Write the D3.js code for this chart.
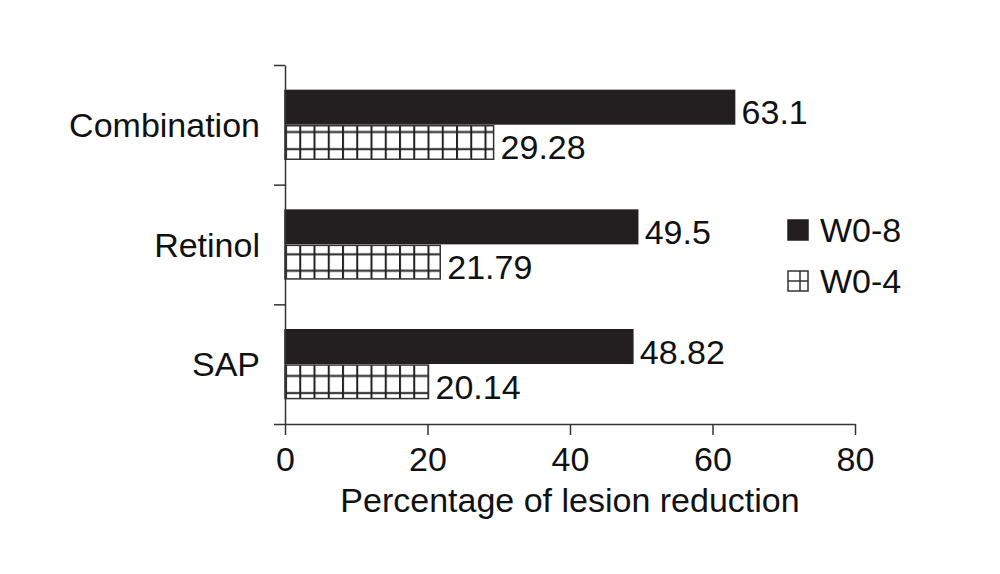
<!DOCTYPE html>
<html>
<head>
<meta charset="utf-8">
<script src="https://cdn.jsdelivr.net/npm/d3@7"></script>
<style>
  body { margin: 0; background: #fff; }
  text { font-family: "Liberation Sans", Arial, Helvetica, sans-serif; fill: #111; }
  .axis path, .axis line { stroke: #333; stroke-width: 1.5; }
</style>
</head>
<body>
<div id="chart"></div>
<script>
// data
var categories = ["Combination", "Retinol", "SAP"];
var series = ["W0-8", "W0-4"];
var w08 = [63.1, 49.5, 48.82];
var w04 = [29.28, 21.79, 20.14];
var w08Labels = ["63.1", "49.5", "48.82"];
var w04Labels = ["29.28", "21.79", "20.14"];
var xTicks = [0, 20, 40, 60, 80];

var svgWidth = 1000;
var svgHeight = 574;
var fontSize = 34;

var svg = d3.select("#chart")
  .append("svg")
  .attr("width", svgWidth)
  .attr("height", svgHeight);

var x = d3.scaleLinear().domain([0, 80]).range([285, 855]);
var y = d3.scaleBand().domain(categories).range([65, 424]);
var ySub = d3.scaleBand().domain(series).range([0, y.bandwidth()])
  .paddingInner(0.05).paddingOuter(0.72);

var rows = categories.map(function(c, i) {
  return { cat: c, values: [
    { key: "W0-8", v: w08[i], label: w08Labels[i] },
    { key: "W0-4", v: w04[i], label: w04Labels[i] }
  ]};
});

// hatch pattern, one per category so the grid lines up with each bar
var defs = svg.append("defs");
var cellW = x(2) - x(0);
var hatchH = ySub.bandwidth();
var pats = defs.selectAll("pattern")
  .data(categories)
  .join("pattern")
  .attr("id", function(d, i) { return "hatch" + i; })
  .attr("patternUnits", "userSpaceOnUse")
  .attr("x", x(0))
  .attr("y", function(d) { return y(d) + ySub("W0-4"); })
  .attr("width", cellW)
  .attr("height", hatchH);
pats.append("rect").attr("width", cellW).attr("height", hatchH).attr("fill", "#fff");
pats.append("line").attr("x1", 1).attr("x2", 1).attr("y1", 0).attr("y2", hatchH)
  .attr("stroke", "#222").attr("stroke-width", 2);
pats.append("line").attr("x1", 0).attr("x2", cellW).attr("y1", hatchH * 0.25).attr("y2", hatchH * 0.25)
  .attr("stroke", "#222").attr("stroke-width", 2);
pats.append("line").attr("x1", 0).attr("x2", cellW).attr("y1", hatchH * 0.76).attr("y2", hatchH * 0.76)
  .attr("stroke", "#222").attr("stroke-width", 2);

// bars
var groups = svg.selectAll(".row")
  .data(rows)
  .join("g")
  .attr("class", "row")
  .attr("transform", function(d) { return "translate(0," + y(d.cat) + ")"; });

groups.each(function(row, i) {
  var g = d3.select(this);
  g.selectAll("rect")
    .data(row.values)
    .join("rect")
    .attr("x", x(0))
    .attr("y", function(d) { return ySub(d.key); })
    .attr("width", function(d) { return x(d.v) - x(0); })
    .attr("height", ySub.bandwidth())
    .attr("fill", function(d) { return d.key === "W0-8" ? "#231f20" : "url(#hatch" + i + ")"; })
    .attr("stroke", function(d) { return d.key === "W0-8" ? "#231f20" : "#333"; })
    .attr("stroke-width", 1.5);

  g.selectAll("text.val")
    .data(row.values)
    .join("text")
    .attr("class", "val")
    .attr("x", function(d) { return x(d.v) + 7; })
    .attr("y", function(d) { return ySub(d.key) + ySub.bandwidth() / 2 + 5; })
    .attr("dominant-baseline", "central")
    .style("font-size", fontSize + "px")
    .text(function(d) { return d.label; });
});

// x axis
var xAxis = svg.append("g")
  .attr("class", "axis")
  .attr("transform", "translate(0,424)")
  .call(d3.axisBottom(x).tickValues(xTicks).tickSize(11).tickSizeOuter(0).tickPadding(12));
xAxis.selectAll("text").style("font-size", fontSize + "px").attr("fill", "#111");

// y axis: boundary ticks only
var yLin = d3.scaleLinear().domain([0, categories.length]).range([424, 65]);
svg.append("g")
  .attr("class", "axis")
  .attr("transform", "translate(285,0)")
  .call(d3.axisLeft(yLin).ticks(categories.length).tickSize(11).tickSizeOuter(0).tickFormat(""));

// category labels
svg.append("g")
  .selectAll("text")
  .data(categories)
  .join("text")
  .attr("x", 260)
  .attr("y", function(d) { return y(d) + y.bandwidth() / 2; })
  .attr("text-anchor", "end")
  .attr("dominant-baseline", "central")
  .style("font-size", fontSize + "px")
  .text(function(d) { return d; });

// axis title
svg.append("text")
  .attr("x", (x.range()[0] + x.range()[1]) / 2)
  .attr("y", 512)
  .attr("text-anchor", "middle")
  .style("font-size", fontSize + "px")
  .text("Percentage of lesion reduction");

// legend
var legend = svg.append("g").attr("transform", "translate(788,220)");
var items = legend.selectAll("g")
  .data(series)
  .join("g")
  .attr("transform", function(d, i) { return "translate(0," + (i * 51) + ")"; });
items.append("rect")
  .attr("width", 20).attr("height", 20)
  .attr("fill", function(d) { return d === "W0-8" ? "#231f20" : "#fff"; })
  .attr("stroke", function(d) { return d === "W0-8" ? "#231f20" : "#333"; })
  .attr("stroke-width", 1.5);
items.filter(function(d) { return d === "W0-4"; })
  .append("path")
  .attr("d", "M12,0V20M0,10H20")
  .attr("stroke", "#333").attr("stroke-width", 1.5).attr("fill", "none");
items.append("text")
  .attr("x", 32)
  .attr("y", 10)
  .attr("dominant-baseline", "central")
  .style("font-size", fontSize + "px")
  .text(function(d) { return d; });
</script>
</body>
</html>
